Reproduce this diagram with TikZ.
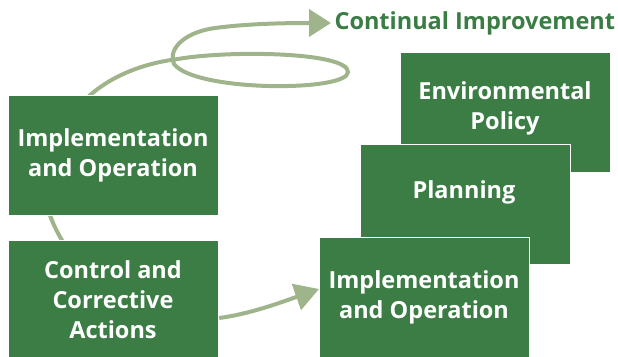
\documentclass[tikz,border=0pt]{standalone}
\usepackage{fontspec}
\setmainfont{Open Sans}
\usetikzlibrary{arrows.meta}
\definecolor{boxgreen}{HTML}{3C7D46}
\definecolor{sage}{HTML}{A0B48C}
\definecolor{titlegreen}{HTML}{3A7D44}
\tikzset{
  box/.style={fill=boxgreen, draw=white, line width=1.2pt, minimum width=210pt, minimum height=120pt, inner sep=0pt, anchor=north west},
  boxtext/.style={text=white, font=\bfseries\fontsize{23.5}{30}\selectfont, align=center},
  flow/.style={draw=sage, line width=4pt},
  bigtip/.style={-{Triangle[length=22pt,width=27pt]}}
}
\begin{document}
\begin{tikzpicture}[x=1pt,y=-1pt]
\useasboundingbox (0,0) rectangle (618,356);
% connector coordinates
\coordinate (loopstart) at (88,97);
\coordinate (cross) at (178,59);
\coordinate (loopright) at (348,72);
\coordinate (loopleft) at (174,64);
\coordinate (arrowend) at (331,23);
\coordinate (linkA) at (63,242);
\coordinate (linkB) at (49,212);
% curves behind the boxes
\draw[flow, bigtip] (loopstart) .. controls (112,75) and (145,63) .. (cross)
  .. controls (230,50) and (348,52) .. (loopright)
  .. controls (348,92) and (195,92) .. (loopleft)
  .. controls (168,52) and (180,33) .. (215,28)
  .. controls (245,24) and (280,23) .. (arrowend);
\draw[flow] (linkA) .. controls (57,232) and (52,222) .. (linkB);
% boxes
\node[box] (policy) at (400,52) {};
\node[boxtext] (policytext) at (505,108) {Environmental\\Policy};
\node[box] (planning) at (360,144) {};
\node[boxtext] (planningtext) at (464,192) {Planning};
\node[box] (implR) at (319,237) {};
\node[boxtext] (implRtext) at (424,297) {Implementation\\and Operation};
\node[box] (implL) at (8,95) {};
\node[boxtext] (implLtext) at (113,155) {Implementation\\and Operation};
\node[box] (control) at (8,240) {};
\node[boxtext] (controltext) at (113,300) {Control and\\Corrective\\Actions};
% bottom arrow
\draw[flow, -{Triangle[length=24pt,width=27pt]}] (control.east |- 0,318) .. controls (250,314) and (282,302) .. (implR.west |- 0,289);
% title
\node[text=titlegreen, font=\bfseries\fontsize{23.5}{28}\selectfont, anchor=west] (title) at (arrowend) {Continual Improvement};
\end{tikzpicture}
\end{document}
